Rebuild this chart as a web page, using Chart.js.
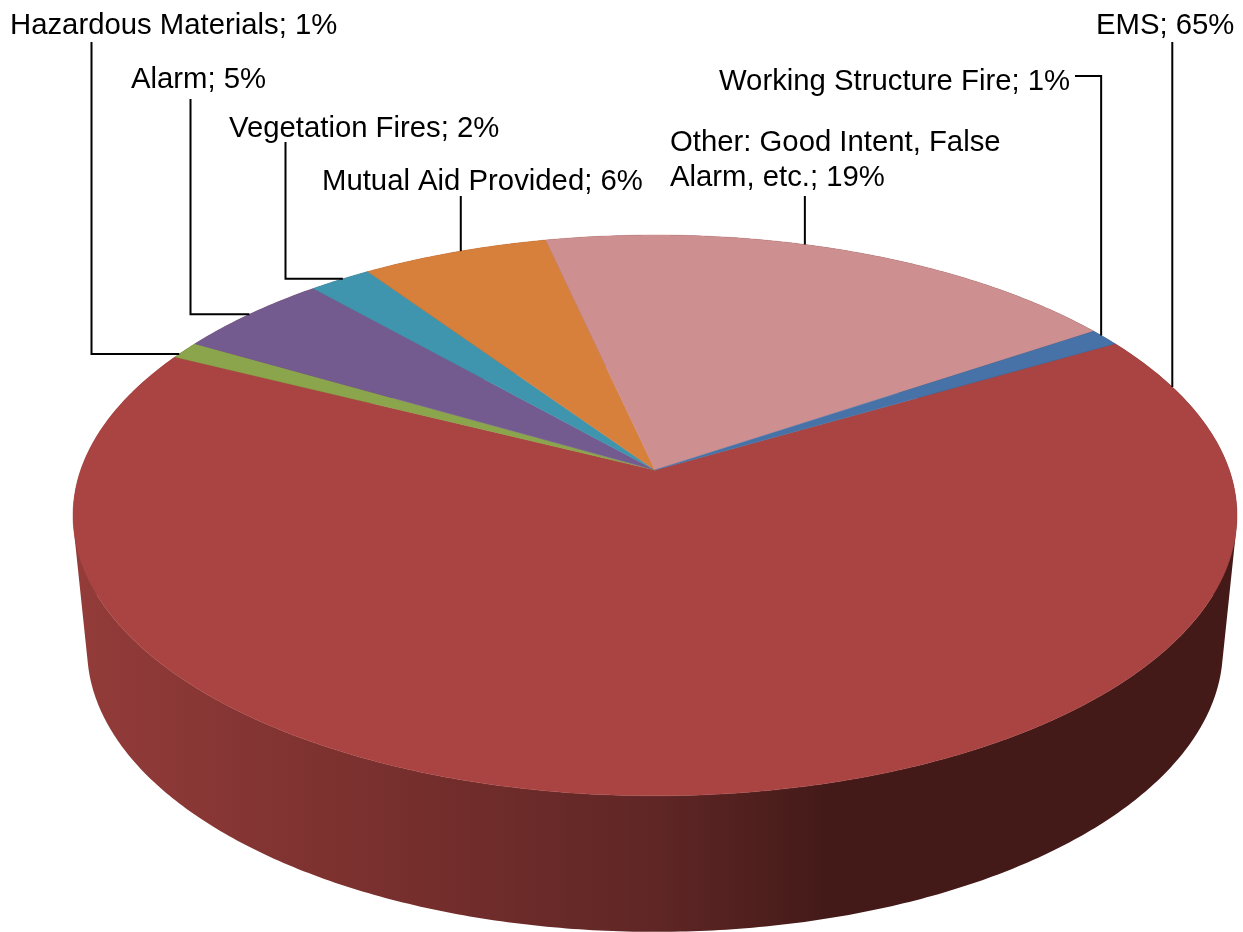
<!DOCTYPE html>
<html>
<head>
<meta charset="utf-8">
<title>Incident types</title>
<script src="https://cdn.jsdelivr.net/npm/chart.js@4"></script>
<style>
  html, body { margin: 0; background: #fff; }
  canvas { display: block; }
</style>
</head>
<body>
<canvas id="incidentChart" width="1243" height="932"></canvas>
<script>
// Incident share, clockwise from the EMS slice
const categories = [
  "EMS",
  "Hazardous Materials",
  "Alarm",
  "Vegetation Fires",
  "Mutual Aid Provided",
  "Other: Good Intent, False Alarm, etc.",
  "Working Structure Fire",
];
const shares = [65, 1, 5, 2, 6, 19, 1];
const sliceColors = ["#a94442", "#8aa54b", "#735a8f", "#4095ae", "#d7803b", "#cd8f8f", "#4672a7"];

// Where each callout sits and how its leader runs to the rim
const labelX = [1096, 10, 131, 229, 322, 670, 719];
const labelY = [34, 34, 88, 137, 190, 151, 90];
const rimFraction = [0.048, 0.22, 0.49, 0.55, 0.535, 0.438, 0.34];
const riserX = [null, 91.5, 190.5, 285.5, null, null, null];
const riserTop = [42, 42, 99, 142, 196, 196, 76];
const tailX = [null, null, null, null, null, null, 1075];

const fontSize = 29.3;
const lineGap = 35;
const wrapWidth = 360;

// Perspective of the tilted disc: far side shrinks, near side grows
const tilt = 0.162;
const topFace = { sx: 1.243, sy: 0.591, dy: 0 };
const bottomFace = { sx: 1.213, sy: 0.5965, dy: 133 };

function project(arc, angle, face) {
  const u = Math.cos(angle);
  const v = Math.sin(angle);
  const w = 1 - tilt * v;
  return {
    x: arc.x + face.sx * arc.outerRadius * u / w,
    y: arc.y + face.dy + face.sy * arc.outerRadius * v / w,
  };
}

function rimPath(ctx, arc, from, to, face) {
  const steps = Math.max(4, Math.ceil(Math.abs(to - from) / 0.01));
  for (let i = 0; i <= steps; i++) {
    const p = project(arc, from + (to - from) * i / steps, face);
    ctx.lineTo(p.x, p.y);
  }
}

// Side of one slice as thin quads, all wound the same way so the fill has no holes
function wallPath(ctx, arc) {
  const steps = Math.max(4, Math.ceil((arc.endAngle - arc.startAngle) / 0.01));
  for (let i = 0; i < steps; i++) {
    const a0 = arc.startAngle + (arc.endAngle - arc.startAngle) * i / steps;
    const a1 = arc.startAngle + (arc.endAngle - arc.startAngle) * (i + 1) / steps;
    const q = [project(arc, a0, topFace), project(arc, a1, topFace),
               project(arc, a1, bottomFace), project(arc, a0, bottomFace)];
    let area = 0;
    q.forEach((p, j) => {
      const n = q[(j + 1) % 4];
      area += p.x * n.y - n.x * p.y;
    });
    if (area < 0) q.reverse();
    ctx.moveTo(q[0].x, q[0].y);
    q.slice(1).forEach((p) => ctx.lineTo(p.x, p.y));
    ctx.closePath();
  }
}

// Replaces the flat pie drawing with an extruded, tilted one
const tiltedPie = {
  id: "tiltedPie",
  beforeDatasetDraw(chart) {
    const ctx = chart.ctx;
    const arcs = chart.getDatasetMeta(0).data;

    const wall = ctx.createLinearGradient(75, 0, 1238, 0);
    wall.addColorStop(0, "#933c3a");
    wall.addColorStop(0.28, "#772f2d");
    wall.addColorStop(0.5, "#5f2625");
    wall.addColorStop(0.65, "#431a18");
    wall.addColorStop(1, "#431a18");

    ctx.save();
    ctx.beginPath();
    arcs.forEach((arc) => wallPath(ctx, arc));
    ctx.fillStyle = wall;
    ctx.fill();

    arcs.forEach((arc) => {
      ctx.beginPath();
      ctx.moveTo(arc.x, arc.y);
      rimPath(ctx, arc, arc.startAngle, arc.endAngle, topFace);
      ctx.closePath();
      ctx.fillStyle = arc.options.backgroundColor;
      ctx.strokeStyle = arc.options.backgroundColor;
      ctx.lineWidth = 0.5;
      ctx.fill();
      ctx.stroke();
    });
    ctx.restore();
    return false;
  },
  afterDraw(chart) {
    const ctx = chart.ctx;
    const arcs = chart.getDatasetMeta(0).data;
    ctx.save();

    // leaders
    ctx.strokeStyle = "#000";
    ctx.lineWidth = 2;
    arcs.forEach((arc, i) => {
      const angle = arc.startAngle + (arc.endAngle - arc.startAngle) * rimFraction[i];
      const rim = project(arc, angle, topFace);
      const x = riserX[i] === null ? rim.x : riserX[i];
      ctx.beginPath();
      ctx.moveTo(rim.x, rim.y);
      ctx.lineTo(x, rim.y);
      ctx.lineTo(x, riserTop[i]);
      if (tailX[i] !== null) ctx.lineTo(tailX[i], riserTop[i]);
      ctx.stroke();
    });

    // callouts
    ctx.fillStyle = "#000";
    ctx.font = fontSize + 'px "Liberation Sans", Arial, sans-serif';
    ctx.textBaseline = "alphabetic";
    categories.forEach((name, i) => {
      const words = (name + "; " + shares[i] + "%").split(" ");
      let line = "";
      let y = labelY[i];
      words.forEach((word) => {
        const next = line ? line + " " + word : word;
        if (line && ctx.measureText(next).width > wrapWidth) {
          ctx.fillText(line, labelX[i], y);
          y += lineGap;
          line = word;
        } else {
          line = next;
        }
      });
      ctx.fillText(line, labelX[i], y);
    });
    ctx.restore();
  },
};

new Chart(document.getElementById("incidentChart"), {
  type: "pie",
  data: {
    labels: categories,
    datasets: [{ data: shares, backgroundColor: sliceColors, borderWidth: 0 }],
  },
  options: {
    responsive: false,
    animation: false,
    rotation: 60,
    layout: { padding: { left: 67, top: 8 } },
    plugins: { legend: { display: false }, tooltip: { enabled: false } },
  },
  plugins: [tiltedPie],
});
</script>
</body>
</html>
